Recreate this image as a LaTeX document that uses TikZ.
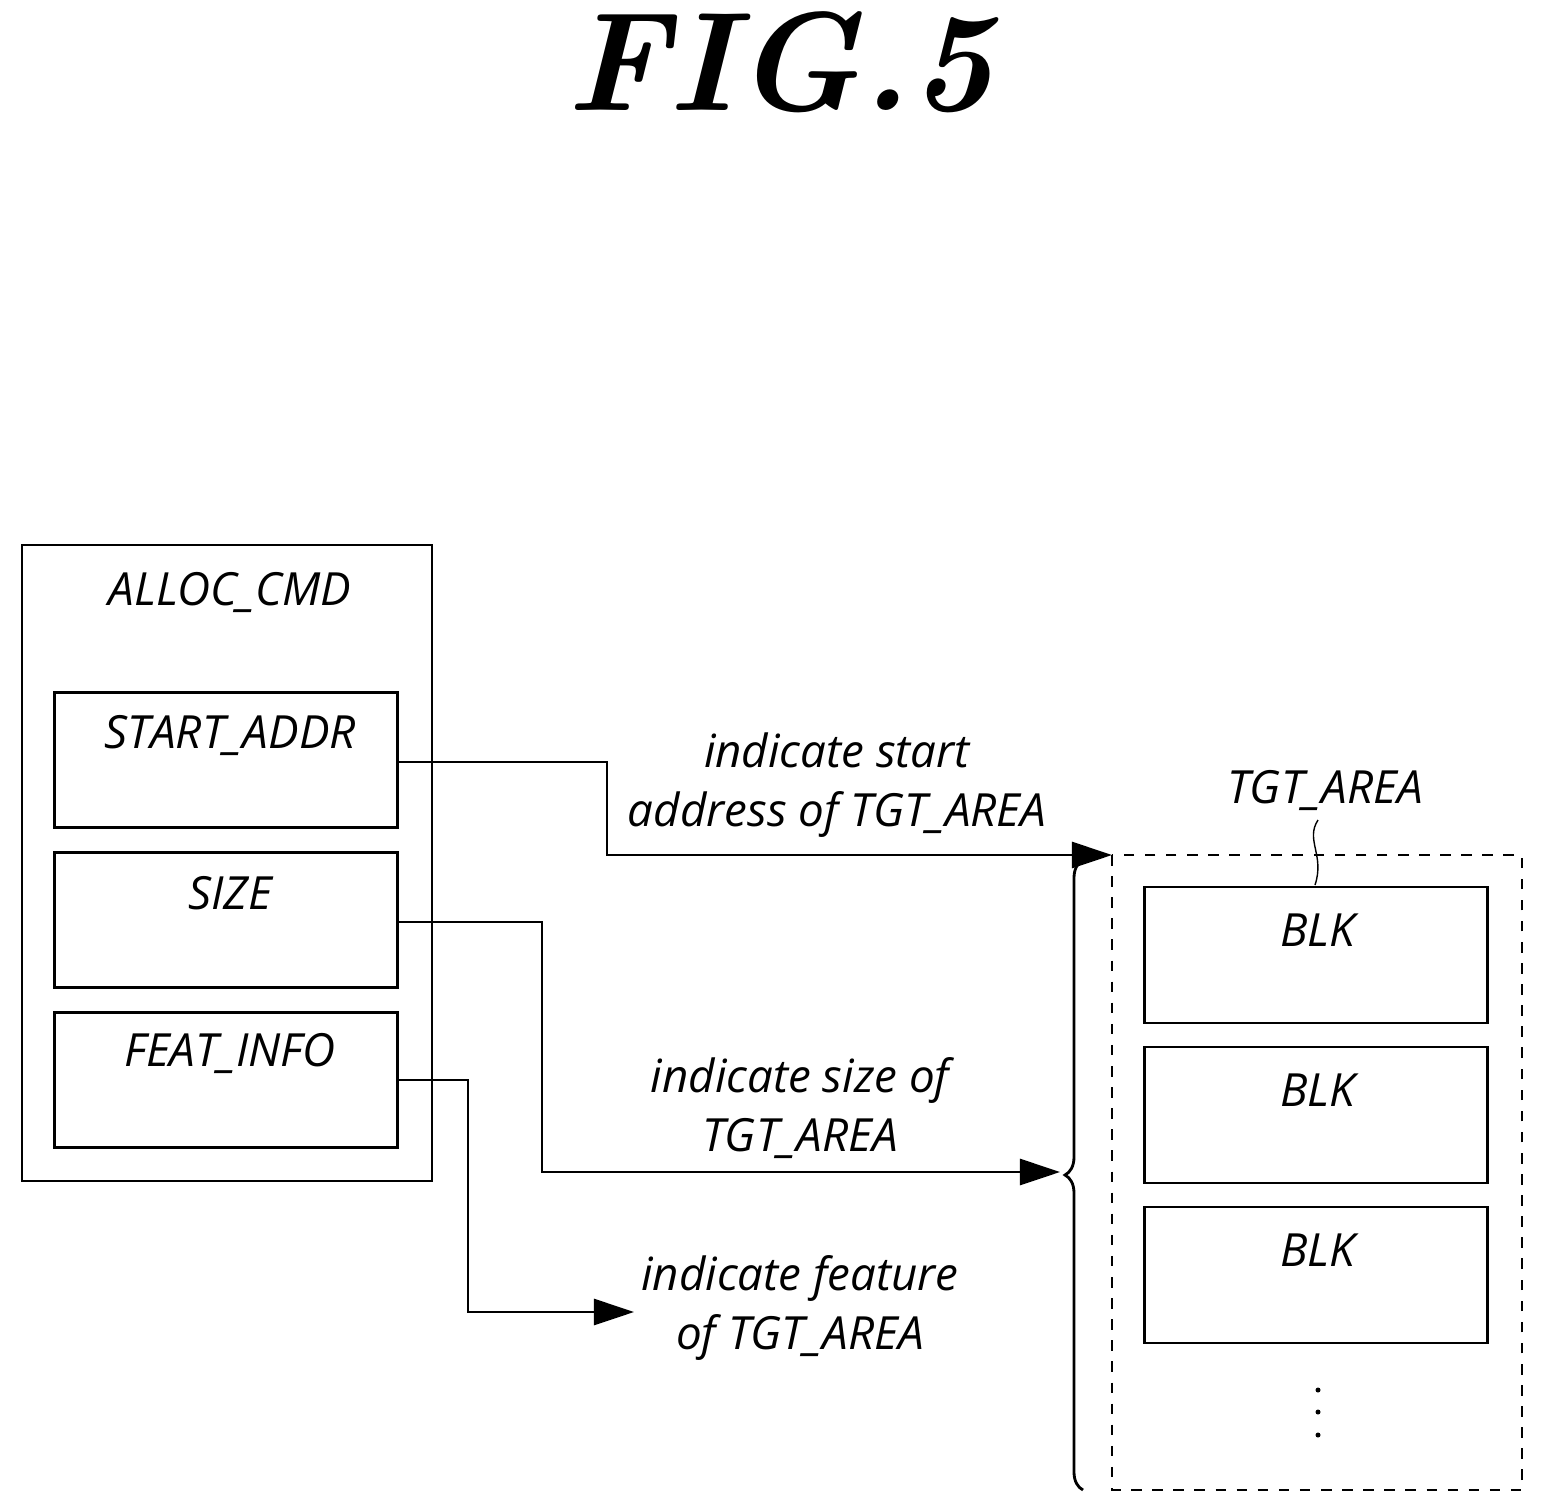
\documentclass[tikz,border=0pt]{standalone}
\usepackage{fontspec}
\setsansfont{Open Sans}
\usetikzlibrary{arrows.meta,decorations.pathreplacing}
\begin{document}
\begin{tikzpicture}
        [x=0.01cm, y=-0.01cm, font=\sffamily\itshape\fontsize{13}{17}\selectfont,
         field/.style={rectangle, draw=black, thick, minimum width=3.42cm, minimum height=1.35cm},
         blk/.style={rectangle, draw=black, thick, minimum width=3.43cm, minimum height=1.36cm},
         tag/.style={align=center, inner sep=0pt},
         link/.style={-{Triangle[length=4mm,width=2.6mm]}, thick}]

        \useasboundingbox (0, 0) rectangle (1542, 1511);

        \node[font=\rmfamily\bfseries\itshape\fontsize{40}{44}\selectfont] (title) at (780, 62) {FIG.5};

        \draw[thick] (22, 545) rectangle (432, 1181);
        \node (cmd) at (230, 592) {ALLOC\_CMD};

        \node[field] (start) at (226, 760) {};
        \node[field] (size) at (226, 920) {};
        \node[field] (feat) at (226, 1080) {};
        \node (startlbl) at (230, 735) {START\_ADDR};
        \node (sizelbl) at (230, 893) {SIZE};
        \node (featlbl) at (230, 1053) {FEAT\_INFO};

        \draw[thick, dashed] (1112, 855) rectangle (1522, 1490);
        \coordinate (area) at (1112, 855);
        \node[blk] (blk1) at (1316, 955) {};
        \node[blk] (blk2) at (1316, 1115) {};
        \node[blk] (blk3) at (1316, 1275) {};
        \node (blklbl1) at (1318, 930) {BLK};
        \node (blklbl2) at (1318, 1090) {BLK};
        \node (blklbl3) at (1318, 1250) {BLK};
        \foreach \y in {1390, 1412, 1435}
            \fill (1318, \y) circle (2.5);

        \node (tgt) at (1325, 790) {TGT\_AREA};
        \draw[thin] (1318, 820) .. controls (1305, 840) and (1325, 855) .. (1315, 885);

        \draw[thick, decoration={brace, amplitude=0.18cm}, decorate] (1083, 1490) -- (1083, 860);
        \coordinate (bracetip) at (1060, 1172);

        \node[tag] (startnote) at (837, 785) {indicate start\\address of TGT\_AREA};
        \node[tag] (sizenote) at (800, 1108) {indicate size of\\TGT\_AREA};
        \node[tag] (featnote) at (800, 1308) {indicate feature\\of TGT\_AREA};
        \coordinate (featend) at (634, 1312);

        \draw[link] (start.east |- 0, 762) -| (607, 855) -- (area);
        \draw[link] (size.east |- 0, 922) -| (542, 1172) -- (bracetip);
        \draw[link] (feat.east |- 0, 1080) -| (468, 1312) -- (featend);
    \end{tikzpicture}
\end{document}
